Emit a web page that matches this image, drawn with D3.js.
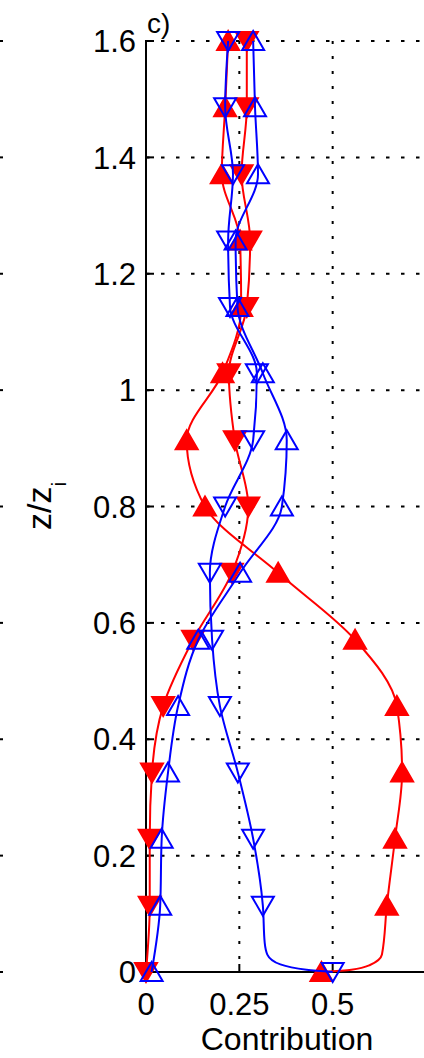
<!DOCTYPE html>
<html>
<head>
<meta charset="utf-8">
<script src="https://cdn.jsdelivr.net/npm/d3@7"></script>
<style>
  html, body { margin: 0; padding: 0; background: #fff; }
  svg { display: block; }
  text { font-family: "Liberation Sans", Arial, Helvetica, sans-serif; fill: #000; }
</style>
</head>
<body>
<svg id="chart" width="424" height="1058"></svg>
<script>
// Height levels (z/z_i) where the profiles carry markers
const zLevels = [0, 0.114, 0.229, 0.343, 0.457, 0.571, 0.686, 0.800, 0.914, 1.029, 1.143, 1.257, 1.371, 1.486, 1.600];

// Contribution profiles at the marker levels
const redUp    = [0.470, 0.645, 0.667, 0.686, 0.672, 0.560, 0.354, 0.158, 0.109, 0.205, 0.255, 0.252, 0.203, 0.212, 0.220];
const redDown  = [0.000, 0.010, 0.010, 0.016, 0.046, 0.126, 0.230, 0.274, 0.238, 0.222, 0.270, 0.279, 0.256, 0.270, 0.270];
const blueUp   = [0.015, 0.038, 0.042, 0.059, 0.086, 0.140, 0.252, 0.364, 0.377, 0.313, 0.245, 0.240, 0.300, 0.292, 0.287];
const blueDown = [0.500, 0.313, 0.287, 0.246, 0.198, 0.177, 0.171, 0.212, 0.287, 0.297, 0.225, 0.220, 0.233, 0.212, 0.220];

// Extra profile samples between markers near the surface: [z, value]
const redUpNearWall    = [[0.004, 0.55], [0.012, 0.60], [0.030, 0.632]];
const blueDownNearWall = [[0.004, 0.43], [0.013, 0.36], [0.030, 0.325], [0.050, 0.318]];

// Axis ticks
const xTicks = [0, 0.25, 0.5];
const xTickLabels = ["0", "0.25", "0.5"];
const yTicks = [0, 0.2, 0.4, 0.6, 0.8, 1.0, 1.2, 1.4, 1.6];
const yTickLabels = ["0", "0.2", "0.4", "0.6", "0.8", "1", "1.2", "1.4", "1.6"];

const svg = d3.select("#chart");
const x = d3.scaleLinear().domain([0, 0.75]).range([146, 426]);
const y = d3.scaleLinear().domain([0, 1.6]).range([972, 41]);

const RED = "#ff0000", BLUE = "#0000ff";

// Grid (dotted)
const grid = svg.append("g");
grid.selectAll("line.h").data(yTicks.filter(d => d > 0)).join("line")
  .attr("x1", x(0)).attr("x2", 424)
  .attr("y1", d => y(d)).attr("y2", d => y(d))
  .attr("stroke", "#000").attr("stroke-width", 2).attr("stroke-dasharray", "3.5,11.5");
grid.selectAll("line.v").data(xTicks.filter(d => d > 0)).join("line")
  .attr("x1", d => x(d)).attr("x2", d => x(d))
  .attr("y1", y(1.6)).attr("y2", y(0))
  .attr("stroke", "#000").attr("stroke-width", 2).attr("stroke-dasharray", "3,12");

// Ends of the neighbouring panel's grid lines at the left margin
svg.append("g").selectAll("line").data(yTicks).join("line")
  .attr("x1", 0).attr("x2", 3)
  .attr("y1", d => y(d)).attr("y2", d => y(d))
  .attr("stroke", "#000").attr("stroke-width", 2);

// Axes
const axes = svg.append("g");
axes.append("line").attr("x1", x(0)).attr("x2", x(0)).attr("y1", y(1.6) - 1).attr("y2", y(0) + 1)
  .attr("stroke", "#000").attr("stroke-width", 2);
axes.append("line").attr("x1", x(0) - 1).attr("x2", 424).attr("y1", y(0)).attr("y2", y(0))
  .attr("stroke", "#000").attr("stroke-width", 2);
axes.selectAll("line.yt").data(yTicks).join("line")
  .attr("x1", x(0)).attr("x2", x(0) + 8)
  .attr("y1", d => y(d)).attr("y2", d => y(d))
  .attr("stroke", "#000").attr("stroke-width", 2);
axes.selectAll("line.xt").data(xTicks).join("line")
  .attr("x1", d => x(d)).attr("x2", d => x(d))
  .attr("y1", y(0)).attr("y2", y(0) - 8)
  .attr("stroke", "#000").attr("stroke-width", 2);

axes.selectAll("text.yl").data(yTicks).join("text")
  .attr("x", 136).attr("y", d => y(d)).attr("dy", "0.36em")
  .attr("text-anchor", "end").attr("font-size", 31)
  .text((d, i) => yTickLabels[i]);
axes.selectAll("text.xl").data(xTicks).join("text")
  .attr("x", d => x(d)).attr("y", 1015)
  .attr("text-anchor", "middle").attr("font-size", 31)
  .text((d, i) => xTickLabels[i]);

svg.append("text").attr("x", 287).attr("y", 1050).attr("text-anchor", "middle")
  .attr("font-size", 32).text("Contribution");

const yl = svg.append("text").attr("transform", "translate(51,506) rotate(-90)")
  .attr("text-anchor", "middle").attr("font-size", 34);
yl.append("tspan").text("z/z");
yl.append("tspan").attr("font-size", 21).attr("dy", 15).text("i");

svg.append("text").attr("x", 147).attr("y", 33).attr("font-size", 28).text("c)");

// Profiles
const line = d3.line()
  .x(d => x(d[1]))
  .y(d => y(d[0]))
  .curve(d3.curveMonotoneY);

function profile(values, extra) {
  const pts = zLevels.map((z, i) => [z, values[i]]).concat(extra || []);
  pts.sort((a, b) => a[0] - b[0]);
  return pts;
}

const triUp = "M0,-10L11,9L-11,9Z";
const triDown = "M0,10L11,-9L-11,-9Z";

const series = [
  { vals: redUp,    extra: redUpNearWall,    color: RED,  shape: triUp,   filled: true },
  { vals: redDown,  extra: null,             color: RED,  shape: triDown, filled: true },
  { vals: blueUp,   extra: null,             color: BLUE, shape: triUp,   filled: false },
  { vals: blueDown, extra: blueDownNearWall, color: BLUE, shape: triDown, filled: false }
];

series.forEach(s => {
  const g = svg.append("g");
  g.append("path").datum(profile(s.vals, s.extra))
    .attr("d", line).attr("fill", "none")
    .attr("stroke", s.color).attr("stroke-width", 2);
  g.selectAll("path.m").data(zLevels).join("path")
    .attr("d", s.shape)
    .attr("transform", (z, i) => `translate(${x(s.vals[i])},${y(z)})`)
    .attr("fill", s.filled ? s.color : "none")
    .attr("stroke", s.color).attr("stroke-width", 2)
    .attr("stroke-linejoin", "miter");
});
</script>
</body>
</html>
